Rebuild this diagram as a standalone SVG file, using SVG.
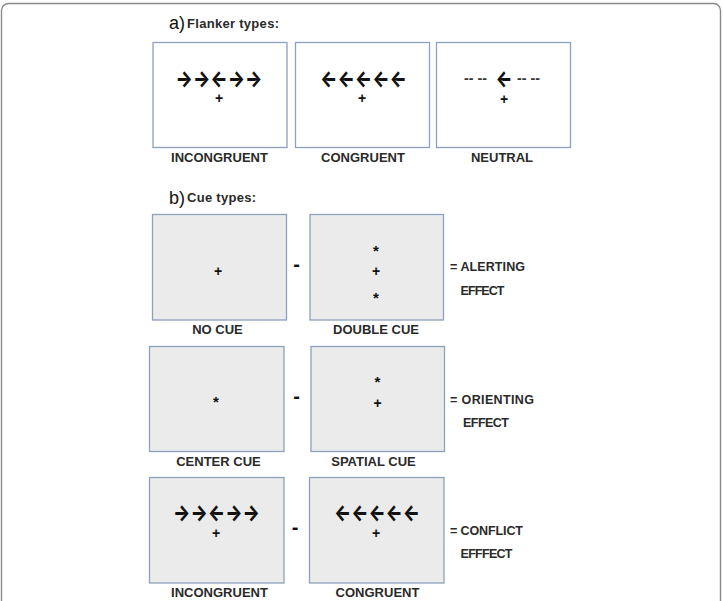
<svg xmlns="http://www.w3.org/2000/svg" width="723" height="601" viewBox="0 0 723 601">
<style>
.frame{fill:none;stroke:#8a8a8a;stroke-width:1.4}
.boxa{fill:#ffffff;stroke:#8ea0bb;stroke-width:1.3}
.boxb{fill:#ebebeb;stroke:#8ea0bb;stroke-width:1.3}
.lbl{font-family:"Liberation Sans",Arial,sans-serif;font-weight:bold;font-size:13px;fill:#2a2a2a;text-anchor:middle}
.eff{font-family:"Liberation Sans",Arial,sans-serif;font-weight:bold;font-size:12.5px;fill:#2a2a2a}
.hd{font-family:"Liberation Sans",Arial,sans-serif;font-size:18px;fill:#111}
.sub{font-family:"Liberation Sans",Arial,sans-serif;font-weight:bold;font-size:13px;fill:#2a2a2a}
.arr{font-family:Inter,"DejaVu Sans",sans-serif;font-weight:800;font-size:22px;fill:#111}
.plus{font-family:"Liberation Sans",Arial,sans-serif;font-weight:bold;font-size:14px;fill:#111;text-anchor:middle}
.ast{font-family:"Liberation Sans",Arial,sans-serif;font-weight:bold;font-size:15px;fill:#111;text-anchor:middle}
.minus{font-family:"Liberation Sans",Arial,sans-serif;font-weight:bold;font-size:20px;fill:#111;text-anchor:middle}
.dash{font-family:"Liberation Sans",Arial,sans-serif;font-weight:bold;font-size:15px;fill:#333}
</style>
<rect x="0" y="0" width="723" height="601" fill="#ffffff"/>
<rect class="frame" x="1.5" y="3.5" width="719" height="640" rx="7"/>

<g id="heading-a">
<text class="hd" x="169" y="29">a)</text>
<text class="sub" x="187" y="28" textLength="92">Flanker types:</text>
</g>

<g id="a-incongruent">
<rect class="boxa" x="153" y="42.5" width="134" height="105"/>
<text class="arr" x="175.5" y="86" textLength="87" lengthAdjust="spacingAndGlyphs">→→←→→</text>
<text class="plus" x="219" y="103">+</text>
<text class="lbl" x="219.5" y="162">INCONGRUENT</text>
</g>

<g id="a-congruent">
<rect class="boxa" x="295.5" y="42.5" width="134" height="105"/>
<text class="arr" x="320" y="86" textLength="87" lengthAdjust="spacingAndGlyphs">←←←←←</text>
<text class="plus" x="362" y="103">+</text>
<text class="lbl" x="363" y="162">CONGRUENT</text>
</g>

<g id="a-neutral">
<rect class="boxa" x="436.5" y="42.5" width="134" height="105"/>
<text class="dash" x="464" y="82.5" textLength="23" lengthAdjust="spacingAndGlyphs">-- --</text>
<text class="arr" x="495.5" y="86" textLength="17" lengthAdjust="spacingAndGlyphs">←</text>
<text class="dash" x="517" y="82.5" textLength="23" lengthAdjust="spacingAndGlyphs">-- --</text>
<text class="plus" x="504" y="103.5">+</text>
<text class="lbl" x="502" y="162">NEUTRAL</text>
</g>

<g id="heading-b">
<text class="hd" x="169" y="204">b)</text>
<text class="sub" x="187" y="202" textLength="69">Cue types:</text>
</g>

<g id="no-cue">
<rect class="boxb" x="152.5" y="214.5" width="134" height="105.5"/>
<text class="plus" x="218" y="275.5">+</text>
<text class="lbl" x="217.5" y="333.5">NO CUE</text>
</g>

<text class="minus" x="296.5" y="271">-</text>

<g id="double-cue">
<rect class="boxb" x="310" y="214.5" width="133.5" height="105.5"/>
<text class="ast" x="376" y="256">*</text>
<text class="plus" x="376" y="275.5">+</text>
<text class="ast" x="376" y="303">*</text>
<text class="lbl" x="376" y="333.5">DOUBLE CUE</text>
</g>

<g id="alerting-effect">
<text class="eff" x="450" y="271" textLength="75">= ALERTING</text>
<text class="eff" x="460.5" y="294.5" textLength="44">EFFECT</text>
</g>

<g id="center-cue">
<rect class="boxb" x="149.5" y="346.5" width="134.5" height="105"/>
<text class="ast" x="216" y="407">*</text>
<text class="lbl" x="218.5" y="466">CENTER CUE</text>
</g>

<text class="minus" x="296.5" y="403">-</text>

<g id="spatial-cue">
<rect class="boxb" x="311" y="346.5" width="133.5" height="105"/>
<text class="ast" x="377.5" y="386.5">*</text>
<text class="plus" x="377.5" y="408">+</text>
<text class="lbl" x="373.5" y="466">SPATIAL CUE</text>
</g>

<g id="orienting-effect">
<text class="eff" x="450" y="403.5" textLength="84">= ORIENTING</text>
<text class="eff" x="463" y="427" textLength="46">EFFECT</text>
</g>

<g id="b-incongruent">
<rect class="boxb" x="149.5" y="477.5" width="134.5" height="105.5"/>
<text class="arr" x="173" y="520" textLength="87" lengthAdjust="spacingAndGlyphs">→→←→→</text>
<text class="plus" x="216" y="538">+</text>
<text class="lbl" x="219.5" y="597">INCONGRUENT</text>
</g>

<text class="minus" x="295" y="533.5">-</text>

<g id="b-congruent">
<rect class="boxb" x="309.5" y="477.5" width="134.5" height="105.5"/>
<text class="arr" x="334" y="520" textLength="86" lengthAdjust="spacingAndGlyphs">←←←←←</text>
<text class="plus" x="376" y="538">+</text>
<text class="lbl" x="377.5" y="597">CONGRUENT</text>
</g>

<g id="conflict-effect">
<text class="eff" x="450" y="534.5" textLength="73">= CONFLICT</text>
<text class="eff" x="460.5" y="558" textLength="52">EFFFECT</text>
</g>
</svg>
